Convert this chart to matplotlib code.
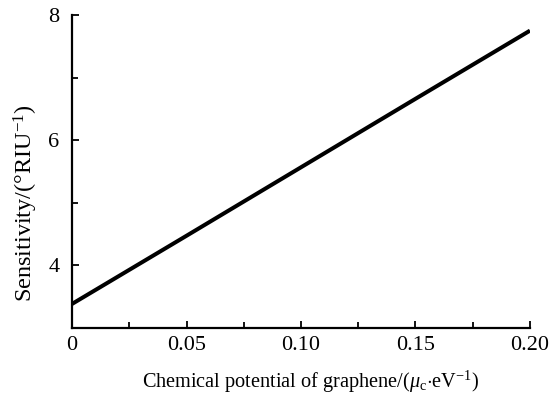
import matplotlib
matplotlib.use("Agg")
import matplotlib.pyplot as plt
from matplotlib.ticker import MultipleLocator

plt.rcParams['font.family'] = ['Liberation Serif', 'DejaVu Serif']
plt.rcParams['mathtext.fontset'] = 'custom'
plt.rcParams['mathtext.rm'] = 'Liberation Serif'
plt.rcParams['mathtext.it'] = 'Liberation Serif:italic'

chemical_potential = [0.0, 0.05, 0.10, 0.15, 0.20]
sensitivity = [3.38, 4.47, 5.565, 6.66, 7.75]
x_ticks = [0, 0.05, 0.10, 0.15, 0.20]
x_tick_labels = ['0', '0.05', '0.10', '0.15', '0.20']
y_ticks = [4, 6, 8]

fig = plt.figure(figsize=(5.6, 3.99), dpi=100)
ax = fig.add_axes([0.1286, 0.1787, 0.8178, 0.7837])
ax.plot(chemical_potential, sensitivity, color='black', linewidth=2.9, solid_capstyle='butt')
ax.set_xlim(0, 0.20)
ax.set_ylim(3, 8)
ax.set_xticks(x_ticks)
ax.set_xticklabels(x_tick_labels)
ax.set_yticks(y_ticks)
ax.xaxis.set_minor_locator(MultipleLocator(0.025))
ax.yaxis.set_minor_locator(MultipleLocator(1))
for s in ['top', 'right']:
    ax.spines[s].set_visible(False)
for s in ['left', 'bottom']:
    ax.spines[s].set_linewidth(1.6)
ax.tick_params(which='both', direction='in', width=1.3, labelsize=16)
ax.tick_params(axis='x', which='major', length=5, pad=6)
ax.tick_params(axis='y', which='major', length=5, pad=9)
ax.tick_params(which='minor', length=4)

fig.text(310 / 560, 1 - 382 / 399,
         r'Chemical potential of graphene/($\mu_{\mathrm{c}}$$\cdot$eV$^{-1}$)',
         fontsize=14.6, ha='center', va='center')
fig.text(26 / 560, 1 - 203 / 399, r'Sensitivity/(°RIU$^{-1}$)',
         fontsize=17.5, ha='center', va='center', rotation=90)
fig.savefig('out.png', dpi=100)
